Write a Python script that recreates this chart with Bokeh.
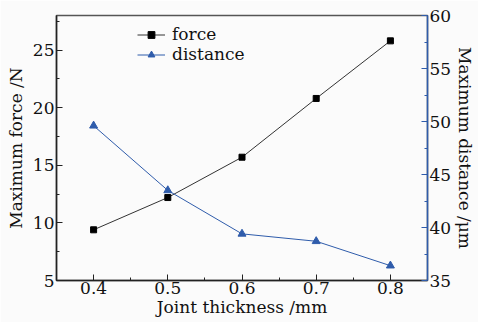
from bokeh.plotting import figure
from bokeh.models import Range1d, LinearAxis, Legend, LegendItem, FixedTicker
from bokeh.embed import file_html
from bokeh.resources import INLINE

thickness = [0.4, 0.5, 0.6, 0.7, 0.8]
force = [9.4, 12.2, 15.7, 20.8, 25.8]
distance = [49.6, 43.5, 39.4, 38.7, 36.4]

x_ticks = [0.4, 0.5, 0.6, 0.7, 0.8]
force_ticks = [5, 10, 15, 20, 25]
dist_ticks = [35, 40, 45, 50, 55, 60]

FONT = "DejaVu Serif"
BLUE = "#2f5cab"

p = figure(width=478, height=322, output_backend="svg", toolbar_location=None,
           x_range=Range1d(0.35, 0.85), y_range=Range1d(5, 28),
           min_border_left=56, min_border_right=45, min_border_top=15, min_border_bottom=42,
           background_fill_color="#fbfbfb", border_fill_color="#fbfbfb")
p.extra_y_ranges = {"dist": Range1d(35, 60)}
p.grid.visible = False
p.outline_line_color = "#555555"
p.outline_line_width = 1.5

def style(ax, color):
    ax.axis_line_color = color
    ax.axis_line_width = 1.5
    ax.major_tick_line_color = color
    ax.minor_tick_line_color = color
    ax.major_tick_in = 6
    ax.major_tick_out = 0
    ax.minor_tick_in = 3
    ax.minor_tick_out = 0
    ax.major_label_text_font = FONT
    ax.major_label_text_font_size = "17px"
    ax.major_label_text_color = "#111111"
    ax.axis_label_text_font = FONT
    ax.axis_label_text_font_size = "17px"
    ax.axis_label_text_font_style = "normal"
    ax.axis_label_text_color = "#111111"
    ax.major_label_standoff = 2
    ax.axis_label_standoff = 1

xa = p.xaxis[0]
xa.ticker = FixedTicker(ticks=x_ticks, minor_ticks=[0.35, 0.45, 0.55, 0.65, 0.75, 0.85])
xa.axis_label = "Joint thickness /mm"
style(xa, "#222222")
xa.major_label_standoff = 1
xa.axis_label_standoff = 0

ya = p.yaxis[0]
ya.ticker = FixedTicker(ticks=force_ticks, minor_ticks=[7.5, 12.5, 17.5, 22.5, 27.5])
ya.axis_label = "Maximum force /N"
style(ya, "#222222")
ya.axis_label_standoff = 4

ra = LinearAxis(y_range_name="dist", axis_label="Maximum distance /μm",
                ticker=FixedTicker(ticks=dist_ticks, minor_ticks=[37.5, 42.5, 47.5, 52.5, 57.5]))
style(ra, BLUE)
ra.major_label_text_color = "#111111"
p.add_layout(ra, "right")

fl = p.line(thickness, force, line_color="#333333", line_width=1)
fm = p.scatter(thickness, force, marker="square", size=6, fill_color="black", line_color="black")
dl = p.line(thickness, distance, y_range_name="dist", line_color=BLUE, line_width=1)
dm = p.scatter(thickness, distance, y_range_name="dist", marker="triangle", size=8,
               fill_color=BLUE, line_color=BLUE)

legend = Legend(items=[LegendItem(label="force", renderers=[fl, fm]),
                       LegendItem(label="distance", renderers=[dl, dm])],
                location=(81, 216))
legend.border_line_color = None
legend.background_fill_alpha = 0
legend.label_text_font = FONT
legend.label_text_font_size = "17px"
legend.label_text_color = "#111111"
legend.label_height = 17
legend.glyph_height = 17
legend.glyph_width = 28
legend.spacing = 0
legend.padding = 0
legend.margin = 0
legend.label_standoff = 7
p.add_layout(legend)

open("out.html", "w").write(file_html(p, INLINE))
